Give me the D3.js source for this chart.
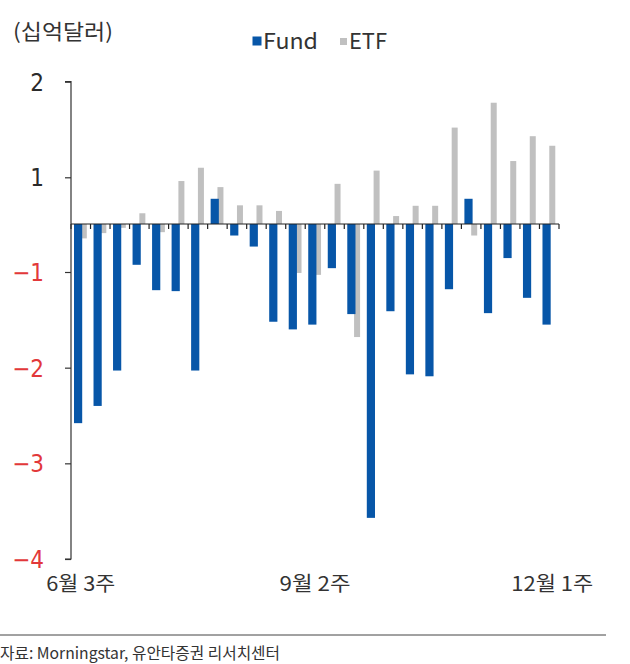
<!DOCTYPE html>
<html><head><meta charset="utf-8">
<script src="https://cdn.jsdelivr.net/npm/d3@7"></script>
<style>
body{margin:0;background:#fff;}
svg{display:block;}
</style>
</head><body>
<svg id="c" width="630" height="664"></svg>
<script>
const categories = ["6월 3주","6월 4주","7월 1주","7월 2주","7월 3주","7월 4주","7월 5주","8월 1주","8월 2주","8월 3주","8월 4주","9월 1주","9월 2주","9월 3주","9월 4주","10월 1주","10월 2주","10월 3주","10월 4주","10월 5주","11월 1주","11월 2주","11월 3주","11월 4주","12월 1주"];
const fund = [-2.58,-2.40,-2.03,-0.85,-1.19,-1.20,-2.03,0.54,-0.24,-0.47,-1.52,-1.60,-1.55,-0.92,-1.44,-3.57,-1.41,-2.07,-2.09,-1.18,0.54,-1.43,-0.71,-1.27,-1.55];
const etf  = [-0.30,-0.19,-0.08,0.23,-0.17,0.92,1.10,0.79,0.40,0.40,0.28,-1.01,-1.03,0.86,-1.68,1.07,0.17,0.39,0.39,1.52,-0.24,1.78,1.17,1.43,1.33];
const yTicks = [2,1,-1,-2,-3,-4];
const xLabelCats = ["6월 3주","9월 2주","12월 1주"];
const seriesNames = ["Fund","ETF"];
const colors = {Fund:"#0756a8", ETF:"#c0c0c0"};

const svg = d3.select("#c");
const x = d3.scaleBand().domain(categories).range([71,559]).padding(0);
const y = d3.scaleLinear().domain([-4,-1,0,1,2]).range([559,272,224,177.3,81.7]);

const kfont = "'Noto Sans CJK KR','Noto Sans',sans-serif";
const nfont = "'Liberation Sans Narrow','DejaVu Sans Condensed','Liberation Sans',sans-serif";

// ETF bars
svg.append("g").selectAll("rect").data(categories).join("rect")
  .attr("x", (d)=>x(d)+9.8)
  .attr("width", 6)
  .attr("y", (d,i)=>Math.min(y(etf[i]), y(0)))
  .attr("height", (d,i)=>Math.abs(y(etf[i])-y(0)))
  .attr("fill", colors.ETF);
// Fund bars
svg.append("g").selectAll("rect").data(categories).join("rect")
  .attr("x", (d)=>x(d)+3)
  .attr("width", 8.2)
  .attr("y", (d,i)=>Math.min(y(fund[i]), y(0)))
  .attr("height", (d,i)=>Math.abs(y(fund[i])-y(0)))
  .attr("fill", colors.Fund);

// zero line with ticks
const xAxisG = svg.append("g").attr("transform",`translate(0,${y(0)})`);
xAxisG.append("line").attr("x1",71).attr("x2",559).attr("y1",0).attr("y2",0).attr("stroke","#222").attr("stroke-width",1.2);
const bounds = categories.map(c=>x(c)).concat([x.range()[1]]);
xAxisG.selectAll("line.t").data(bounds).join("line").attr("class","t")
  .attr("x1",d=>d).attr("x2",d=>d).attr("y1",0).attr("y2",5).attr("stroke","#222").attr("stroke-width",1.2);

// y axis
const yAxis = d3.axisLeft(y).tickValues(yTicks).tickSize(6).tickPadding(21)
  .tickFormat(d=> d<0 ? "\u2212"+Math.abs(d) : String(d));
const yg = svg.append("g").attr("transform","translate(71,0)").call(yAxis);
yg.select(".domain").attr("stroke","#333").attr("stroke-width",1.2).attr("d","M-6,81.7H0V559H-6");
yg.selectAll(".tick line").attr("stroke","#333").attr("stroke-width",1.2);
yg.selectAll(".tick text")
  .attr("font-family", nfont).attr("font-size", 24)
  .attr("fill", d=> d<0 ? "#e2383a" : "#2a2a2a")
  .attr("dy","0.35em");

// x labels
const xLabelWidths = {"6월 3주":69, "9월 2주":71, "12월 1주":82};
svg.append("g").selectAll("text").data(xLabelCats).join("text")
  .attr("x", d=>x(d)+x.bandwidth()/2 + (d==="12월 1주"?3:0))
  .attr("y", 591)
  .attr("text-anchor","middle")
  .attr("font-family", kfont).attr("font-size", 20)
  .attr("fill","#333")
  .attr("textLength", d=>xLabelWidths[d]).attr("lengthAdjust","spacingAndGlyphs")
  .text(d=>d);

// title
svg.append("text").attr("x",13).attr("y",39).attr("font-family",kfont).attr("font-size",21).attr("fill","#333")
  .attr("textLength",100).attr("lengthAdjust","spacingAndGlyphs").text("(십억달러)");

// legend
const leg = svg.append("g");
leg.append("rect").attr("x",252.5).attr("y",36.5).attr("width",9).attr("height",9).attr("fill",colors.Fund);
leg.append("text").attr("x",263).attr("y",49).attr("font-family",kfont).attr("font-size",21).attr("fill","#333")
  .attr("textLength",55).attr("lengthAdjust","spacingAndGlyphs").text(seriesNames[0]);
leg.append("rect").attr("x",340).attr("y",38).attr("width",7).attr("height",7).attr("fill",colors.ETF);
leg.append("text").attr("x",349).attr("y",49).attr("font-family",kfont).attr("font-size",21).attr("fill","#333")
  .attr("textLength",38).attr("lengthAdjust","spacingAndGlyphs").text(seriesNames[1]);

// footer
svg.append("line").attr("x1",0).attr("x2",606).attr("y1",635).attr("y2",635).attr("stroke","#444").attr("stroke-width",1);
svg.append("text").attr("x",0).attr("y",659).attr("font-family",kfont).attr("font-size",16).attr("fill","#333")
  .attr("textLength",280).attr("lengthAdjust","spacingAndGlyphs")
  .text("자료: Morningstar, 유안타증권 리서치센터");
</script>
</body></html>
